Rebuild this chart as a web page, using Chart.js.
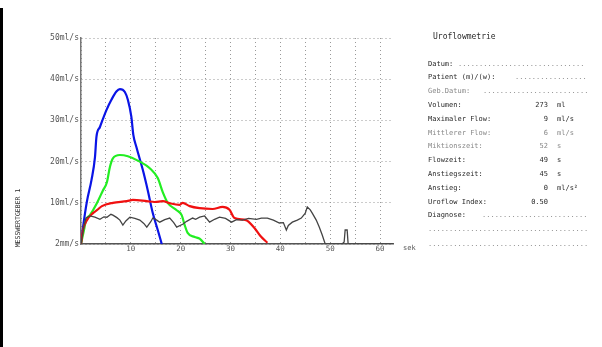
<!DOCTYPE html>
<html>
<head>
<meta charset="utf-8">
<script src="https://cdn.jsdelivr.net/npm/chart.js@4/dist/chart.umd.min.js"></script>
<style>
  body { margin: 0; background: #fff; width: 602px; height: 347px; overflow: hidden; position: relative; }
  #uroChart { position: absolute; left: 0; top: 0; }
  .txt { position: absolute; font-family: 'DejaVu Sans Mono', monospace; font-size: 7px; color: #2a2a2a; white-space: pre; line-height: 8px; }
  .light { color: #888; }
  .val { text-align: right; width: 40px; }
</style>
</head>
<body>
<canvas id="uroChart" width="602" height="347"></canvas>
<div style="position:absolute;left:0;top:8px;width:3px;height:339px;background:#000"></div>
<div class="txt" style="left:-15px;top:214px;font-size:6.5px;transform:rotate(-90deg);transform-origin:center;width:66px;text-align:center">MESSWERTGEBER 1</div>
<div class="txt" style="left:403px;top:244px;color:#555">sek</div>
<div id="panel"></div>
<script>
// flow curves: time (s) and flow (ml/s)
var blueTime  = [0, 0.4, 1.2, 2.1, 2.8, 3.1, 3.8, 5.1, 6.1, 7.1, 7.8, 8.8, 9.4, 10.1, 10.5, 11.1, 12.4, 13.4, 14.4, 15.4, 16.2];
var blueFlow  = [0, 4, 10.4, 15.5, 21, 26, 28.4, 32.5, 35, 37, 37.6, 36.9, 35, 30.9, 26.5, 23.6, 18, 13, 7.5, 3.4, 0];

var greenTime = [0, 0.6, 1.0, 1.8, 3.1, 4.4, 5.2, 5.8, 6.4, 7.8, 9.4, 11.8, 13.8, 15.4, 16.4, 17.4, 19.2, 20.2, 20.8, 21.4, 22.8, 23.8, 24.8];
var greenFlow = [0, 3.4, 5.8, 7, 9.7, 13, 15, 18.7, 20.8, 21.6, 21.3, 20, 18.4, 16, 12.6, 10, 8.2, 7, 4.6, 2.7, 1.7, 1.3, 0];

var redTime   = [0, 0.4, 1.2, 2.4, 3.2, 4.2, 6.4, 9.2, 10.4, 13.2, 14.8, 16.4, 17.8, 19.8, 20.4, 21.8, 23.8, 26.4, 28.4, 29.8, 30.8, 33.1, 34.8, 36.1, 37.4];
var redFlow   = [0, 3.4, 5.8, 7.5, 8.2, 9.2, 10, 10.4, 10.7, 10.4, 10.2, 10.4, 9.9, 9.5, 10, 9.2, 8.7, 8.5, 9, 8.3, 6.3, 5.8, 3.9, 1.8, 0.3];

var grayTime  = [0, 0.6, 1.0, 1.8, 2.8, 3.8, 4.6, 5.2, 6.0, 6.4, 7.2, 7.8, 8.4, 9.0, 9.8, 10.8, 11.8, 12.6, 13.2, 14.0, 14.4, 15.2, 15.8, 16.8, 17.8, 18.6, 19.2, 20.4, 21.2, 22.4, 23.0, 23.8, 24.8, 25.8, 26.8, 27.8, 29.0, 30.2, 31.2, 32.4, 33.6, 35.2, 36.2, 37.4, 38.6, 39.8, 40.6, 41.2, 41.6, 42.4, 43.4, 44.2, 45.0, 45.4, 46.0, 46.4, 47.2, 47.8, 48.4, 49.0, 52.4, 52.8, 53.0, 53.4, 53.6, 62.6];
var grayFlow  = [0, 4.5, 6.3, 6.8, 6.5, 6.0, 6.6, 6.5, 7.2, 7.0, 6.4, 5.8, 4.6, 5.6, 6.5, 6.2, 5.8, 5.0, 4.1, 5.4, 6.3, 5.8, 5.3, 5.9, 6.3, 5.2, 4.1, 4.8, 5.5, 6.3, 6.0, 6.5, 6.8, 5.3, 6.0, 6.5, 6.2, 5.3, 5.9, 5.8, 6.2, 6.0, 6.3, 6.3, 5.8, 5.1, 5.2, 3.4, 4.5, 5.3, 5.8, 6.3, 7.5, 9.0, 8.3, 7.5, 5.8, 4.1, 2.2, 0, 0, 0.5, 3.4, 3.4, 0, 0];

// axis labels
var xTickValues = [10, 20, 30, 40, 50, 60];
var yTickLabels = ['2mm/s', '10ml/s', '20ml/s', '30ml/s', '40ml/s', '50ml/s'];

// report panel on the right
var panelLabels = ['Datum:', 'Patient (m)/(w):', 'Geb.Datum:', 'Volumen:', 'Maximaler Flow:', 'Mittlerer Flow:', 'Miktionszeit:', 'Flowzeit:', 'Anstiegszeit:', 'Anstieg:', 'Uroflow Index:', 'Diagnose:'];
var panelValues = ['', '', '', '273', '9', '6', '52', '49', '45', '0', '0.50', ''];
var panelUnits  = ['', '', '', 'ml', 'ml/s', 'ml/s', 's', 's', 's', 'ml/s\u00b2', '', ''];

function toPoints(t, f) {
    return t.map(function (v, i) { return { x: v, y: f[i] }; });
}

// build the text panel
var panel = document.getElementById('panel');
function addText(text, left, top, cls, extra) {
    var d = document.createElement('div');
    d.className = 'txt' + (cls ? ' ' + cls : '');
    d.textContent = text;
    d.style.left = left + 'px';
    d.style.top = top + 'px';
    if (extra) Object.assign(d.style, extra);
    panel.appendChild(d);
}
addText('Uroflowmetrie', 433, 33, '', { fontSize: '8px' });
var dotStart = [458, 515, 483, null, null, null, null, null, null, null, null, 482];
var lightRows = [2, 5, 6];
panelLabels.forEach(function (lab, i) {
    var top = 59.5 + i * 13.8;
    var cls = lightRows.indexOf(i) >= 0 ? 'light' : '';
    addText(lab, 428, top, cls);
    if (panelValues[i]) addText(panelValues[i], 508, top, 'val ' + cls);
    if (panelUnits[i]) addText(panelUnits[i], 557, top, cls);
    if (dotStart[i]) addText('.'.repeat(Math.floor((588 - dotStart[i]) / 4.2)), dotStart[i], top, 'light');
});
addText('.'.repeat(38), 428, 225, 'light');
addText('.'.repeat(38), 428, 240, 'light');

var ctx = document.getElementById('uroChart').getContext('2d');

var chart = new Chart(ctx, {
    type: 'line',
    data: {
        datasets: [
            { data: toPoints(grayTime, grayFlow), borderColor: '#444', borderWidth: 1.3, tension: 0 },
            { data: toPoints(redTime, redFlow), borderColor: '#f01010', borderWidth: 2.2, cubicInterpolationMode: 'monotone' },
            { data: toPoints(greenTime, greenFlow), borderColor: '#22ee22', borderWidth: 2.2, cubicInterpolationMode: 'monotone' },
            { data: toPoints(blueTime, blueFlow), borderColor: '#0a14e6', borderWidth: 2.2, cubicInterpolationMode: 'monotone' }
        ]
    },
    options: {
        responsive: false,
        animation: false,
        layout: { padding: { left: 0, right: 209, top: 38, bottom: 0 } },
        elements: { point: { radius: 0 } },
        scales: {
            x: {
                type: 'linear',
                min: 0,
                max: 62.6,
                afterFit: function (s) { s.height = 103; },
                ticks: {
                    stepSize: 5,
                    includeBounds: false,
                    maxRotation: 0,
                    autoSkip: false,
                    padding: 1,
                    color: '#555',
                    font: { family: 'DejaVu Sans Mono', size: 7.5 },
                    callback: function (v) { return xTickValues.indexOf(v) >= 0 ? String(v) : ''; }
                },
                grid: { color: '#999', lineWidth: 1, drawTicks: false },
                border: { display: true, color: '#555', width: 1.5, dash: [1, 3] }
            },
            y: {
                min: 0,
                max: 50,
                afterFit: function (s) { s.width = 81; },
                ticks: {
                    stepSize: 10,
                    padding: 2,
                    color: '#555',
                    font: { family: 'DejaVu Sans Mono', size: 8 },
                    callback: function (v) { return yTickLabels[v / 10]; }
                },
                grid: { color: '#999', lineWidth: 1, drawTicks: false },
                border: { display: true, color: '#777', width: 1.5, dash: [1, 3] }
            }
        },
        plugins: {
            legend: { display: false },
            tooltip: { enabled: false }
        }
    }
});
</script>
</body>
</html>
